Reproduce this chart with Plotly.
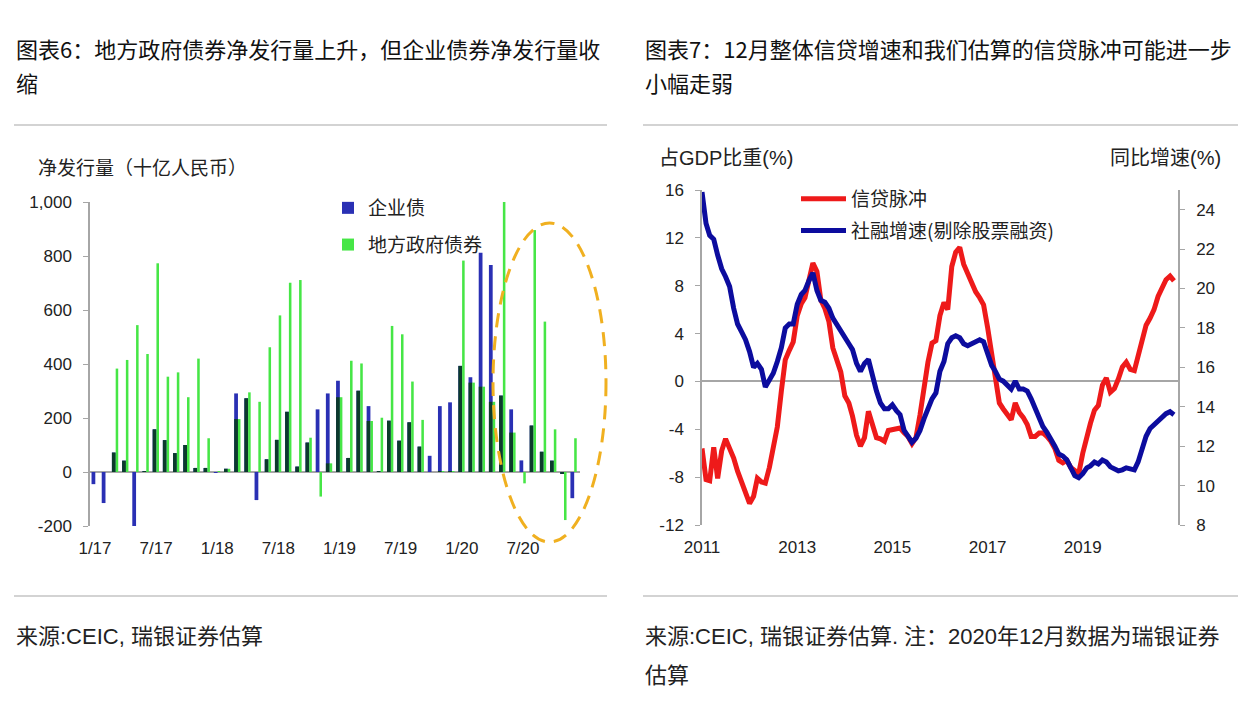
import plotly.graph_objects as go
import pandas as pd

W, H = 1252, 712
CJK = "Noto Sans CJK SC"
NUM = "Liberation Sans, Noto Sans CJK SC"

# ---------------- Left chart data (monthly, Jan 2017 - Dec 2020) ----------------
left_tick_labels = ['1/17', '7/17', '1/18', '7/18', '1/19', '7/19', '1/20', '7/20']
left_y_ticks = [-200, 0, 200, 400, 600, 800, 1000]
left_y_labels = ['-200', '0', '200', '400', '600', '800', '1,000']

corp_bonds = [-45, -115, 72, 42, -202, 2, 158, 118, 70, 100, 15, 15,
              -3, 12, 291, 273, -104, 47, 119, 223, 20, 109, 232, 291,
              338, 52, 301, 244, 2, 190, 116, 184, 94, 60, 244, 258,
              393, 351, 812, 767, 283, 232, 43, 172, 75, 42, -5, -97]
local_gov_bonds = [0, 0, 383, 415, 544, 437, 773, 353, 369, 277, 420, 125,
                   2, 12, 196, 295, 260, 462, 580, 701, 711, 127, -91, 32,
                   277, 412, 402, 189, 201, 541, 510, 335, 193, 0, 3, 2,
                   783, 331, 316, 260, 1001, 146, -42, 896, 557, 158, -178, 125]

# ---------------- Right chart data (monthly, Jan 2011 - Dec 2020) ----------------
right_x_labels = ['2011', '2013', '2015', '2017', '2019']
right_y_ticks = [-12, -8, -4, 0, 4, 8, 12, 16]
right_y_labels = ['-12', '-8', '-4', '0', '4', '8', '12', '16']
right_y2_ticks = [8, 10, 12, 14, 16, 18, 20, 22, 24]

credit_impulse = [
    -5.6, -8.2, -8.3, -5.5, -8.1, -5.8, -4.8, -5.5, -6.4, -7.5, -8.5, -9.3,
    -10.2, -9.6, -8.1, -8.4, -8.5, -7.2, -5.3, -3.8, -0.8, 1.8, 2.6, 3.3,
    5.5, 6.5, 7.0, 8.5, 9.9, 9.2, 6.8, 6.1, 5.0, 2.8, 1.7, 0.8,
    -1.2, -1.8, -2.9, -4.5, -5.4, -4.7, -2.5, -3.8, -4.7, -4.8, -5.0, -4.1,
    -4.0, -3.9, -3.9, -4.3, -4.6, -5.2, -4.7, -2.8, -0.3, 1.6, 3.2, 3.4,
    5.5, 6.6, 6.0, 9.6, 10.8, 11.2, 9.8, 9.0, 8.3, 7.5, 7.0, 6.4,
    4.5, 2.2, 0.3, -1.8, -2.3, -2.7, -3.2, -1.8, -2.6, -3.0, -3.6, -4.6,
    -4.6, -4.3, -4.3, -4.6, -5.0, -5.6, -6.6, -6.8, -6.6, -7.2, -7.5, -7.7,
    -6.0, -4.5, -3.5, -2.4, -2.0, -0.3, 0.3, -0.9, -0.6, 0.2, 1.2, 1.6,
    1.0, 0.9, 2.2, 3.6, 4.7, 5.3, 6.0, 7.1, 7.9, 8.5, 8.8, 8.4]

tsf_growth = [
    24.9, 23.3, 22.7, 22.5, 21.7, 21.0, 20.6, 20.1, 19.0, 18.2, 17.8, 17.4,
    16.8, 16.0, 16.2, 15.9, 15.0, 15.3, 15.7, 16.3, 17.0, 18.0, 18.2, 18.2,
    19.2, 19.7, 19.9, 20.4, 20.8, 19.9, 19.4, 19.3, 19.0, 18.5, 18.2, 17.8,
    17.5, 17.2, 16.9, 16.2, 15.8, 16.2, 16.4, 15.5, 14.8, 14.2, 13.9, 13.9,
    14.1, 13.8, 13.6, 12.8, 12.5, 12.2, 12.4, 12.8, 13.4, 13.9, 14.4, 14.7,
    15.8, 16.3, 17.2, 17.5, 17.6, 17.5, 17.2, 17.1, 17.2, 17.3, 17.4, 17.3,
    16.7, 16.1, 15.8, 15.4, 15.3, 15.1, 14.9, 15.3, 14.9, 14.9, 14.8, 14.4,
    13.9, 13.4, 13.0, 12.7, 12.4, 12.0, 11.6, 11.5, 11.3, 10.9, 10.5, 10.4,
    10.6, 10.9, 11.0, 11.2, 11.1, 11.3, 11.2, 10.95, 10.85, 10.75, 10.8, 10.9,
    10.85, 10.8, 11.2, 11.9, 12.5, 12.9, 13.1, 13.25, 13.5, 13.65, 13.75, 13.6]

# ---------------- helpers ----------------
def px(x):
    return x / W

def py(y):
    return 1 - y / H

BLUE = '#2a30b4'
DARK = '#0c3a2c'
GREEN = '#46e646'
RED = '#ee1a1a'
NAVY = '#0c0c9e'
AX = '#a6a6a6'
TXT = '#222222'

month_idx = list(range(len(corp_bonds)))
left_tickvals = month_idx[::6]
# part of each corporate bar that is covered by the local-government bar (drawn darker)
overlap = [min(b, g) if (b > 0 and g > 0) else (max(b, g) if (b < 0 and g < 0) else 0)
           for b, g in zip(corp_bonds, local_gov_bonds)]

months_right = pd.date_range('2011-01-01', periods=len(credit_impulse), freq='MS')
right_tickvals = [pd.Timestamp(f'{y}-01-01') for y in right_x_labels]

fig = go.Figure()

fig.add_trace(go.Bar(x=month_idx, y=corp_bonds, name='企业债', marker_color=BLUE,
                     marker_line_width=0, offset=-0.34, width=0.37,
                     xaxis='x', yaxis='y', legend='legend', legendgroup='a'))
fig.add_trace(go.Bar(x=month_idx, y=overlap, showlegend=False, marker_color=DARK,
                     marker_line_width=0, offset=-0.34, width=0.37,
                     xaxis='x', yaxis='y', hoverinfo='skip'))
fig.add_trace(go.Bar(x=month_idx, y=local_gov_bonds, name='地方政府债券', marker_color=GREEN,
                     marker_line_width=0, offset=0.03, width=0.25,
                     xaxis='x', yaxis='y', legend='legend', legendgroup='b'))

fig.add_trace(go.Scatter(x=months_right, y=credit_impulse, name='信贷脉冲', mode='lines',
                         line=dict(color=RED, width=5),
                         xaxis='x2', yaxis='y2', legend='legend2', legendgroup='c'))
fig.add_trace(go.Scatter(x=months_right, y=tsf_growth, name='社融增速(剔除股票融资)', mode='lines',
                         line=dict(color=NAVY, width=5),
                         xaxis='x2', yaxis='y3', legend='legend2', legendgroup='d'))

tickfont = dict(family=NUM, size=17, color=TXT)

fig.update_layout(
    template='none',
    width=W, height=H, autosize=False,
    margin=dict(l=0, r=0, t=0, b=0, pad=0, autoexpand=False),
    paper_bgcolor='white', plot_bgcolor='white',
    barmode='overlay',
    showlegend=True,
    xaxis=dict(domain=[px(90), px(580)], range=[-0.49, 47.6], anchor='y',
               tickvals=left_tickvals, ticktext=left_tick_labels, tickfont=tickfont,
               showline=False, ticks='', showgrid=False, zeroline=False, automargin=False,
               ticklabelstandoff=10, fixedrange=True),
    yaxis=dict(domain=[py(526), py(202)], range=[-200, 1000], anchor='x',
               tickvals=left_y_ticks, ticktext=left_y_labels, tickfont=tickfont,
               showline=True, linecolor=AX, linewidth=1.5,
               ticks='outside', ticklen=5, tickcolor=AX, tickwidth=1.2,
               showgrid=False, zeroline=True, zerolinecolor=AX, zerolinewidth=1.5,
               automargin=False, ticklabelstandoff=8, fixedrange=True),
    xaxis2=dict(domain=[px(702), px(1178)], type='date',
                range=['2011-01-01', '2021-01-01'], anchor='y2',
                tickvals=right_tickvals, ticktext=right_x_labels, tickfont=tickfont,
                showline=False, ticks='', showgrid=False, zeroline=False, automargin=False,
                ticklabelstandoff=10, fixedrange=True),
    yaxis2=dict(domain=[py(525), py(190)], range=[-12, 16], anchor='x2',
                tickvals=right_y_ticks, ticktext=right_y_labels, tickfont=tickfont,
                showline=True, linecolor=AX, linewidth=1.5,
                ticks='outside', ticklen=5, tickcolor=AX, tickwidth=1.2,
                showgrid=False, zeroline=True, zerolinecolor=AX, zerolinewidth=1.5,
                automargin=False, ticklabelstandoff=8, fixedrange=True),
    yaxis3=dict(overlaying='y2', side='right', range=[8, 25], anchor='x2',
                tickvals=right_y2_ticks, tickfont=tickfont,
                showline=True, linecolor=AX, linewidth=1.5,
                ticks='outside', ticklen=5, tickcolor=AX, tickwidth=1.2,
                showgrid=False, zeroline=False, automargin=False,
                ticklabelstandoff=8, fixedrange=True),
    legend=dict(x=px(328), y=py(189), xanchor='left', yanchor='top',
                font=dict(family=CJK, size=19, color=TXT), bgcolor='rgba(0,0,0,0)',
                traceorder='grouped', tracegroupgap=9, itemclick=False, itemdoubleclick=False),
    legend2=dict(x=px(796), y=py(180), xanchor='left', yanchor='top',
                 font=dict(family=CJK, size=19, color=TXT), bgcolor='rgba(0,0,0,0)',
                 traceorder='grouped', tracegroupgap=4, itemwidth=45,
                 itemclick=False, itemdoubleclick=False),
)

annotations = [
    dict(text='图表6：地方政府债券净发行量上升，但企业债券净发行量收', x=px(14), y=py(48)),
    dict(text='缩', x=px(14), y=py(82)),
    dict(text='图表7：12月整体信贷增速和我们估算的信贷脉冲可能进一步', x=px(643), y=py(48)),
    dict(text='小幅走弱', x=px(643), y=py(82)),
]
for a in annotations:
    a.update(xref='paper', yref='paper', xanchor='left', yanchor='middle', showarrow=False,
             font=dict(family=CJK, size=22, color='#111111'))

small = [
    dict(text='净发行量（十亿人民币）', x=px(36), y=py(168), xanchor='left', size=19),
    dict(text='占GDP比重(%)', x=px(657), y=py(158), xanchor='left', size=20),
    dict(text='同比增速(%)', x=px(1223), y=py(158), xanchor='right', size=20),
    dict(text='来源:CEIC, 瑞银证券估算', x=px(14), y=py(636), xanchor='left', size=22),
    dict(text='来源:CEIC, 瑞银证券估算. 注：2020年12月数据为瑞银证券', x=px(643), y=py(636),
         xanchor='left', size=22),
    dict(text='估算', x=px(643), y=py(675), xanchor='left', size=22),
]
for a in small:
    size = a.pop('size')
    a.update(xref='paper', yref='paper', yanchor='middle', showarrow=False,
             font=dict(family=NUM, size=size, color=TXT))

fig.update_layout(annotations=annotations + small)

SEP = '#c4c4c4'
shapes = []
for (x0, x1) in [(14, 607), (643, 1238)]:
    for yy in (125, 596):
        shapes.append(dict(type='line', xref='paper', yref='paper',
                           x0=px(x0), x1=px(x1), y0=py(yy), y1=py(yy),
                           line=dict(color=SEP, width=1.5)))
# dashed highlight ellipse around the latest months
shapes.append(dict(type='circle', xref='paper', yref='paper',
                   x0=px(493), x1=px(606), y0=py(542), y1=py(223),
                   line=dict(color='#F0B020', width=3, dash='14px,9px')))
fig.update_layout(shapes=shapes)

fig.write_html('out.html', config={'displayModeBar': False},
               post_script="document.body.style.margin='0';")
